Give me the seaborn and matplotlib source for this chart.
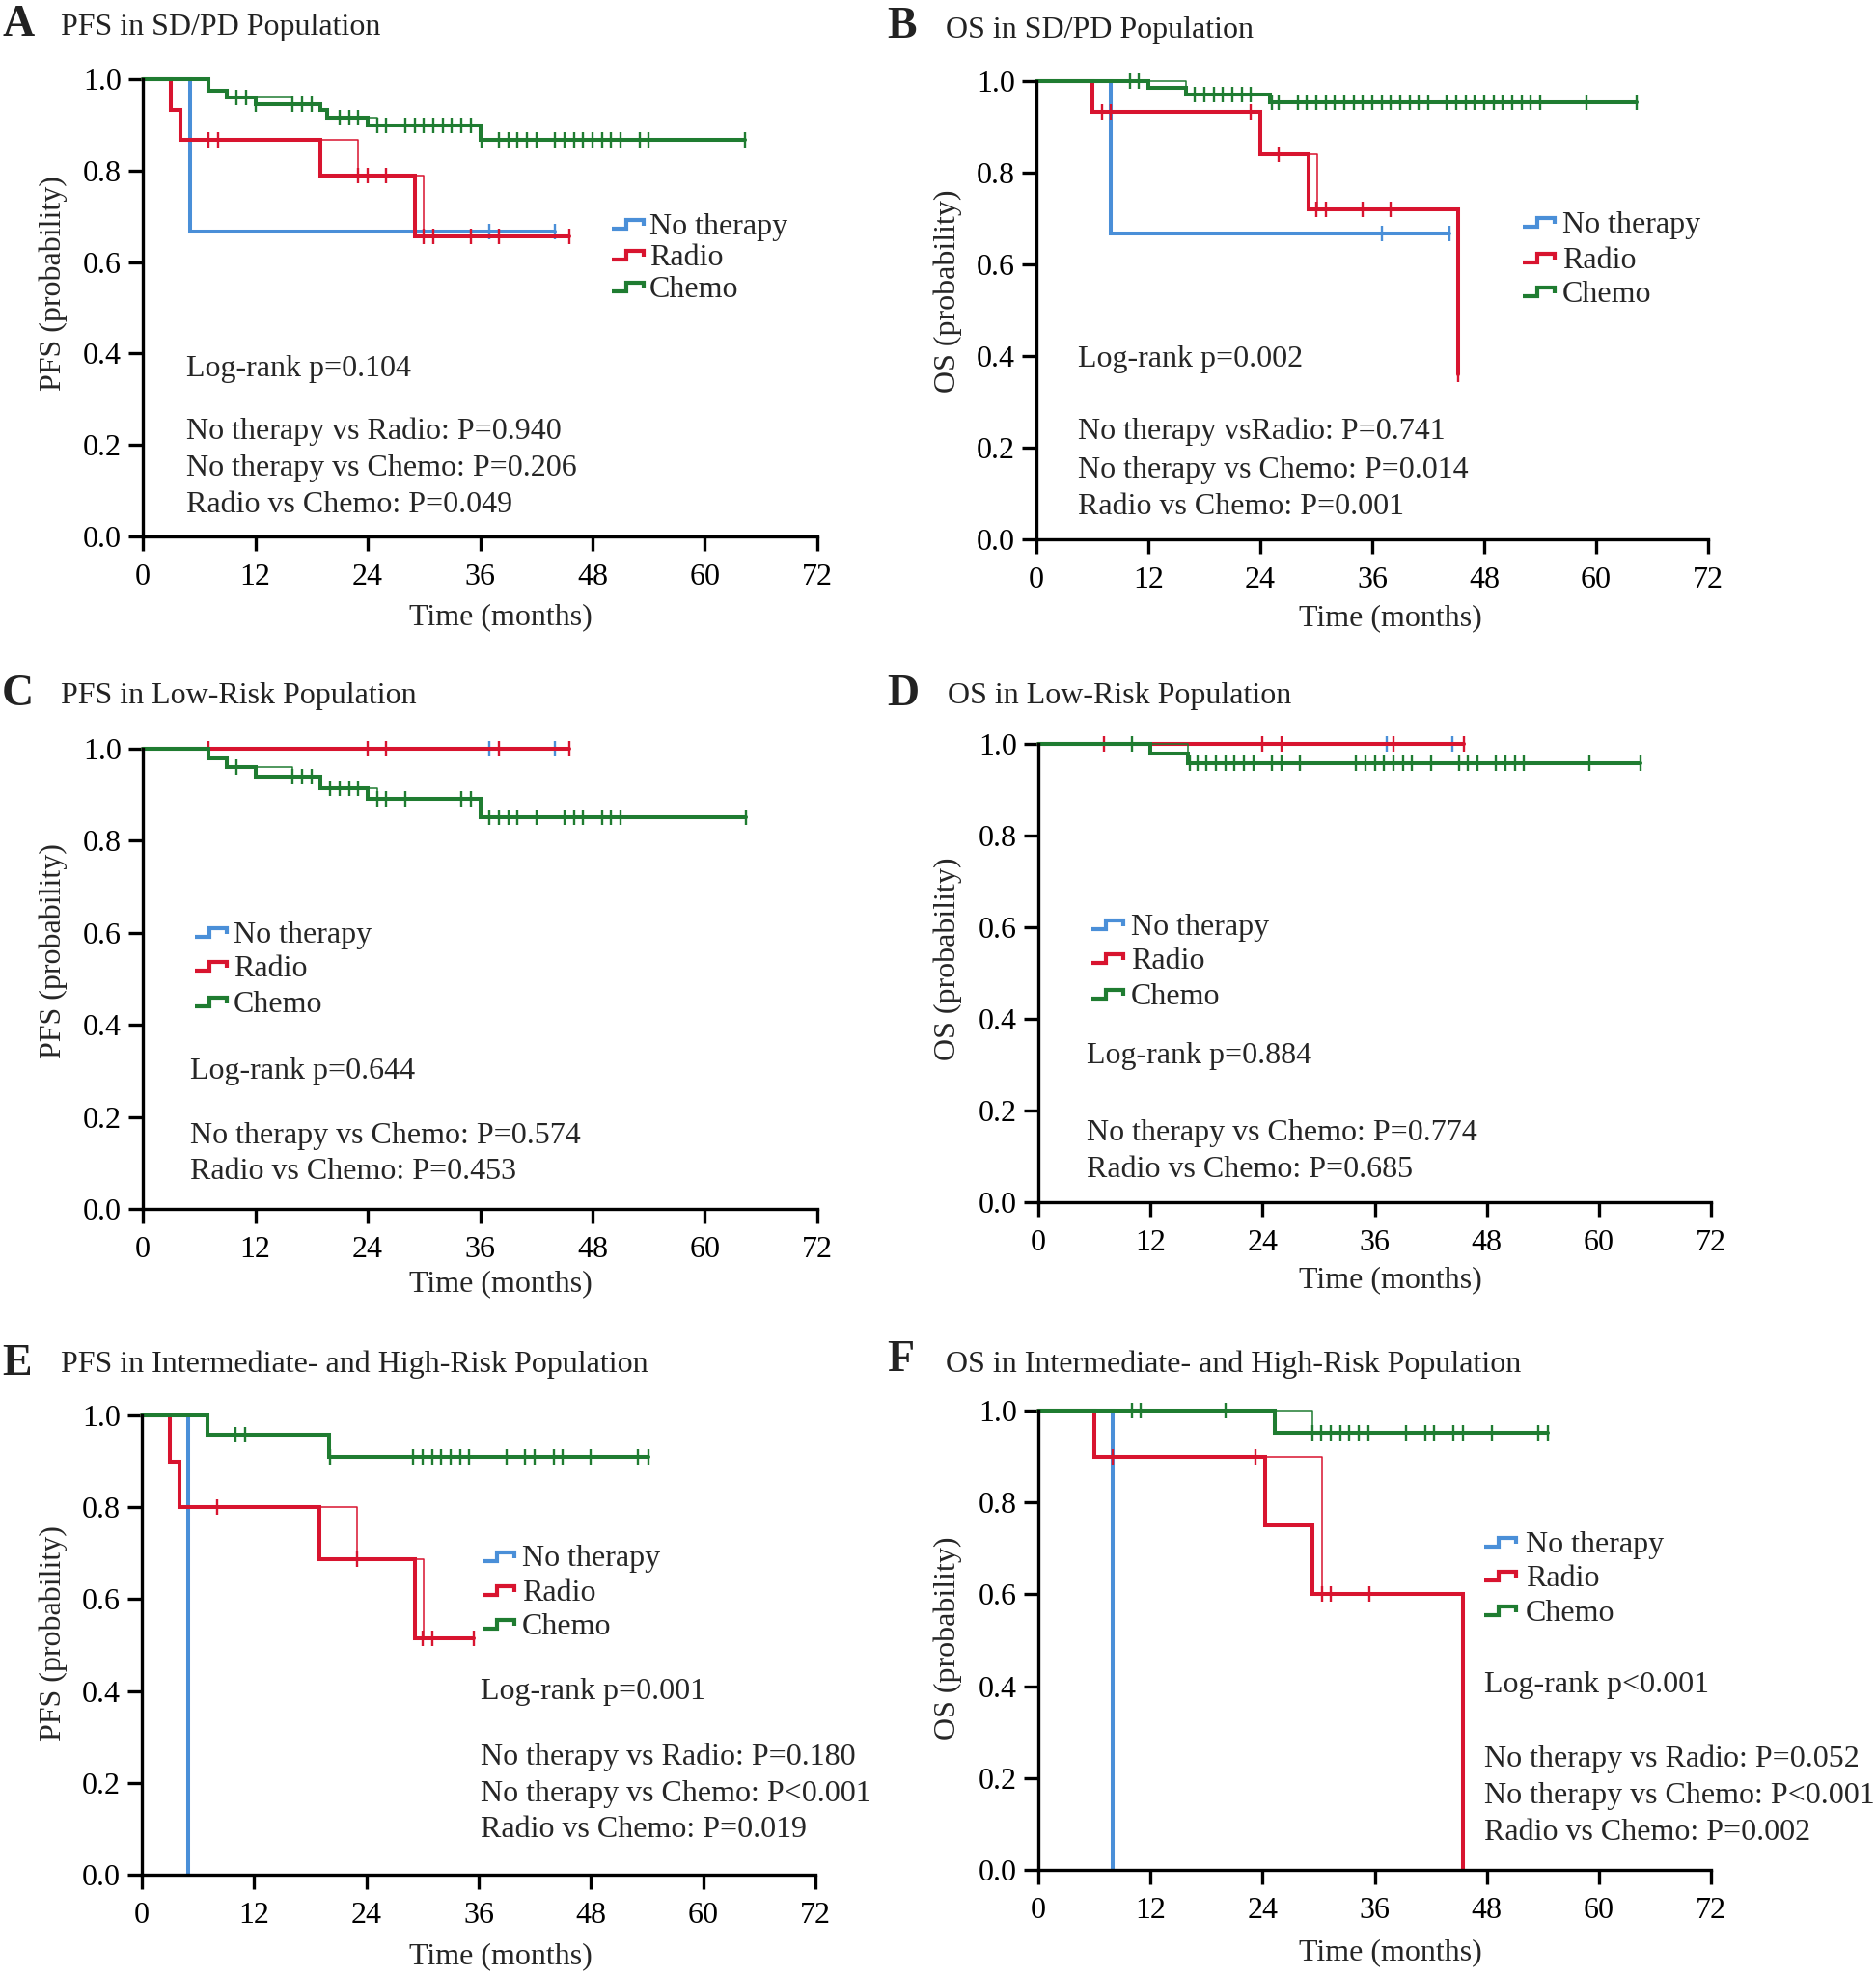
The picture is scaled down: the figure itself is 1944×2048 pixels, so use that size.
import numpy as np
import pandas as pd
import matplotlib
matplotlib.use("Agg")
import matplotlib.pyplot as plt
import seaborn as sns
from matplotlib.lines import Line2D

# ---------------- data ----------------
GROUPS = ["No therapy", "Radio", "Chemo"]
COLORS = {"No therapy": "#4a8fd8", "Radio": "#d8142f", "Chemo": "#1f7c31"}

# A: PFS in SD/PD population
a_events = {"No therapy": [5], "Radio": [3, 4, 19, 29],
            "Chemo": [7, 9, 12, 19, 19.7, 24, 36]}
a_surv = {"No therapy": [0.667], "Radio": [0.933, 0.867, 0.788, 0.657],
          "Chemo": [0.975, 0.959, 0.945, 0.932, 0.916, 0.898, 0.867]}
a_cens = {"No therapy": [37, 44],
          "Radio": [7, 8, 23, 24, 26, 30, 31, 35, 38, 45.5],
          "Chemo": [10, 11, 12, 16, 17, 18, 21, 22, 23, 25, 26, 28, 29, 30, 31, 32, 33, 34,
                    35, 36.2, 38, 39, 40, 41, 42, 44, 45, 46, 47, 48, 49, 50, 51, 53, 54, 64.3]}
a_ghost = {"Radio": [(19, 23), (29, 30)], "Chemo": [(12, 16), (24, 25)]}

# B: OS in SD/PD population
b_events = {"No therapy": [8], "Radio": [6, 24, 29.2, 45.2], "Chemo": [12, 16, 25]}
b_surv = {"No therapy": [0.667], "Radio": [0.933, 0.84, 0.72, 0.36],
          "Chemo": [0.986, 0.970, 0.954]}
b_cens = {"No therapy": [37, 44.3],
          "Radio": [7, 8, 23, 26, 30, 31, 35, 38, 45.2],
          "Chemo": [10, 11, 17, 18, 19, 20, 21, 22, 23, 25.2, 26, 28, 29, 30, 31, 32, 33, 34,
                    35, 36, 37, 38, 39, 40, 41, 42, 44, 45, 46, 47, 48, 49, 50, 51, 52, 53,
                    54, 59, 64.3]}
b_ghost = {"Radio": [(29.2, 30.1)], "Chemo": [(12, 16)]}

# C: PFS in low-risk population
c_events = {"No therapy": [], "Radio": [], "Chemo": [7, 9, 12, 19, 24, 36]}
c_surv = {"No therapy": [], "Radio": [],
          "Chemo": [0.980, 0.961, 0.940, 0.915, 0.891, 0.851]}
c_cens = {"No therapy": [37, 44], "Radio": [7, 24, 26, 38, 45.5],
          "Chemo": [10, 16, 17, 18, 20, 21, 22, 23, 25, 26, 28, 34, 35, 37, 38, 39, 40,
                    42, 45, 46, 47, 49, 50, 51, 64.4]}
c_ghost = {"Chemo": [(12, 16), (24, 25)]}

# D: OS in low-risk population
d_events = {"No therapy": [], "Radio": [], "Chemo": [12, 16]}
d_surv = {"No therapy": [], "Radio": [], "Chemo": [0.979, 0.958]}
d_cens = {"No therapy": [37.3, 44.3], "Radio": [7, 24, 26, 38, 45.6],
          "Chemo": [10, 16.2, 17, 18, 19, 20, 21, 22, 23, 25, 26, 28, 34, 35, 36, 37, 38,
                    39, 40, 42, 45, 46, 47, 49, 50, 51, 52, 59, 64.5]}
d_ghost = {"Chemo": [(12, 16)]}

# E: PFS in intermediate- and high-risk population
e_events = {"No therapy": [5], "Radio": [3, 4, 19, 29.2], "Chemo": [7, 20]}
e_surv = {"No therapy": [0.0], "Radio": [0.9, 0.8, 0.686, 0.514], "Chemo": [0.958, 0.910]}
e_cens = {"No therapy": [], "Radio": [8, 23, 30, 31, 35.5],
          "Chemo": [10, 11, 20.1, 29, 30, 31, 32, 33, 34, 35, 39, 41, 42, 44, 45, 48, 53, 54.2]}
e_ghost = {"Radio": [(19, 23), (29.2, 30.1)]}

# F: OS in intermediate- and high-risk population
f_events = {"No therapy": [8], "Radio": [6, 24.3, 29.3, 45.5], "Chemo": [25.3]}
f_surv = {"No therapy": [0.0], "Radio": [0.9, 0.75, 0.6, 0.0], "Chemo": [0.951]}
f_cens = {"No therapy": [], "Radio": [8, 23.2, 30.4, 31.3, 35.4],
          "Chemo": [10, 11, 20, 29.3, 30.3, 31.3, 32.3, 33.3, 34.3, 35.3, 39.4, 41.4, 42.4,
                    44.4, 45.5, 48.5, 53.5, 54.5]}
f_ghost = {"Radio": [(24.3, 30.4)], "Chemo": [(25.3, 29.3)]}

letters = ["A", "B", "C", "D", "E", "F"]
titles = ["PFS in SD/PD Population", "OS in SD/PD Population",
          "PFS in Low-Risk Population", "OS in Low-Risk Population",
          "PFS in Intermediate- and High-Risk Population",
          "OS in Intermediate- and High-Risk Population"]
ylabels = ["PFS (probability)", "OS (probability)"] * 3
stats_text = [
    ["Log-rank p=0.104", "No therapy vs Radio: P=0.940", "No therapy vs Chemo: P=0.206",
     "Radio vs Chemo: P=0.049"],
    ["Log-rank p=0.002", "No therapy vsRadio: P=0.741", "No therapy vs Chemo: P=0.014",
     "Radio vs Chemo: P=0.001"],
    ["Log-rank p=0.644", "No therapy vs Chemo: P=0.574", "Radio vs Chemo: P=0.453"],
    ["Log-rank p=0.884", "No therapy vs Chemo: P=0.774", "Radio vs Chemo: P=0.685"],
    ["Log-rank p=0.001", "No therapy vs Radio: P=0.180", "No therapy vs Chemo: P<0.001",
     "Radio vs Chemo: P=0.019"],
    ["Log-rank p<0.001", "No therapy vs Radio: P=0.052", "No therapy vs Chemo: P<0.001",
     "Radio vs Chemo: P=0.002"],
]
x_ticks = [0, 12, 24, 36, 48, 60, 72]
y_ticks = [0.0, 0.2, 0.4, 0.6, 0.8, 1.0]

panels_data = [(a_events, a_surv, a_cens, a_ghost), (b_events, b_surv, b_cens, b_ghost),
               (c_events, c_surv, c_cens, c_ghost), (d_events, d_surv, d_cens, d_ghost),
               (e_events, e_surv, e_cens, e_ghost), (f_events, f_surv, f_cens, f_ghost)]

# ---------------- layout (pixels) ----------------
W, H = 1944, 2048
layout = [
    dict(ax=(148, 82, 847, 556), letter=(2, 37), title=(63, 36),
         leg=(634, 673, [233, 265, 298]), ann=(193, [390, 455.5, 493.4, 531]),
         ylab=(55, 294), xlab=(519, 640)),
    dict(ax=(1074, 84, 1770, 559), letter=(919, 39), title=(980, 39),
         leg=(1578, 1619, [231, 268, 303]), ann=(1117, [380, 455.5, 494.7, 532.6]),
         ylab=(982, 302), xlab=(1441, 641)),
    dict(ax=(148, 776, 847, 1253), letter=(2, 731), title=(63, 729),
         leg=(202, 242, [967, 1002, 1039]), ann=(197, [1118, 1184.5, 1222.4]),
         ylab=(55, 986), xlab=(519, 1331)),
    dict(ax=(1076, 771, 1773, 1246), letter=(919, 731), title=(982, 729),
         leg=(1131, 1172, [959, 994, 1031]), ann=(1126, [1102, 1182, 1220]),
         ylab=(982, 994), xlab=(1441, 1327)),
    dict(ax=(147, 1467, 845, 1943), letter=(2, 1425), title=(63, 1422),
         leg=(500, 541, [1613.5, 1649, 1684]), ann=(498, [1761, 1828.6, 1866.5, 1904.4]),
         ylab=(55, 1693), xlab=(519, 2028)),
    dict(ax=(1076, 1462, 1773, 1938), letter=(919, 1421), title=(980, 1422),
         leg=(1538, 1581, [1599, 1634, 1670]), ann=(1538, [1754, 1831, 1869, 1907]),
         ylab=(982, 1698), xlab=(1441, 2024)),
]

sns.set_theme(style="white")
plt.rcParams['font.family'] = ['Liberation Serif', 'DejaVu Serif']
plt.rcParams['mathtext.default'] = 'regular'

FS = 23
LW = 2.4
CLW = 2.9


def fx(x):
    return x / W


def fy(y):
    return 1 - y / H


def surv_at(events, surv, t):
    idx = np.searchsorted(np.asarray(events, float), t, side='right') - 1
    return 1.0 if idx < 0 else surv[idx]


fig = plt.figure(figsize=(W / 100, H / 100), dpi=100)

for i, lay in enumerate(layout):
    events, surv, cens, ghost = panels_data[i]
    L, T, R, B = lay['ax']
    ax = fig.add_axes([fx(L), fy(B), (R - L) / W, (B - T) / H])
    ax.set_xlim(0, 72)
    ax.set_ylim(0, 1.0)
    ax.set_facecolor('none')

    for g in GROUPS:
        c = COLORS[g]
        ev = list(events[g])
        sv = list(surv[g])
        ce = list(cens[g])
        end = max(ev + ce) if (ev + ce) else 0
        xs = [0] + ev + [end]
        ys = [1.0] + sv + [sv[-1] if sv else 1.0]
        df = pd.DataFrame({"time": xs, "surv": ys})
        sns.lineplot(data=df, x="time", y="surv", drawstyle="steps-post", estimator=None,
                     sort=False, color=c, linewidth=CLW, ax=ax, clip_on=False, legend=False,
                     solid_joinstyle='miter')
        if ce:
            cs = [surv_at(ev, sv, t) for t in ce]
            ax.plot(ce, cs, ls='none', marker='|', ms=11, mew=1.7, color=c, clip_on=False)
        for (t0, t1) in ghost.get(g, []):
            hi = surv_at(ev, sv, t0 - 1e-6)
            lo = surv_at(ev, sv, t1)
            ax.plot([t0, t1, t1], [hi, hi, lo], color=c, lw=1.1, clip_on=False)

    ax.set_xticks(x_ticks)
    ax.set_xticklabels([str(t) for t in x_ticks])
    ax.set_yticks(y_ticks)
    ax.set_yticklabels([f"{t:.1f}" for t in y_ticks])
    ax.tick_params(axis='both', direction='out', length=11, width=LW, labelsize=FS,
                   colors='black', left=True, bottom=True)
    ax.tick_params(axis='x', pad=9)
    ax.tick_params(axis='y', pad=5)
    for s in ['top', 'right']:
        ax.spines[s].set_visible(False)
    for s in ['left', 'bottom']:
        ax.spines[s].set_linewidth(LW)
        ax.spines[s].set_color('black')
    ax.set_xlabel("")
    ax.set_ylabel("")
    ax.grid(False)

    # letters & titles
    lx, lb = lay['letter']
    fig.text(fx(lx), fy(lb), letters[i], fontsize=33, fontweight='bold', va='baseline',
             ha='left', color='#222222')
    tx, tb = lay['title']
    fig.text(fx(tx), fy(tb), titles[i], fontsize=FS, va='baseline', ha='left', color='#222222')

    # axis labels
    yx, yc = lay['ylab']
    fig.text(fx(yx), fy(yc), ylabels[i], fontsize=FS, rotation=90, va='center', ha='center')
    xx, xc = lay['xlab']
    fig.text(fx(xx), fy(xc), "Time (months)", fontsize=FS, va='center', ha='center')

    # legend with step icons
    il, tl, centers = lay['leg']
    for g, cy in zip(GROUPS, centers):
        px = [il, il + 15, il + 15, il + 33, il + 33]
        py = [cy + 4, cy + 4, cy - 5, cy - 5, cy + 1]
        fig.add_artist(Line2D([fx(v) for v in px], [fy(v) for v in py],
                              transform=fig.transFigure, color=COLORS[g], lw=3.0,
                              solid_joinstyle='miter', solid_capstyle='butt'))
        fig.text(fx(tl), fy(cy + 10), g, fontsize=FS, va='baseline', ha='left')

    # statistics
    ax_x, bases = lay['ann']
    for line, b in zip(stats_text[i], bases):
        fig.text(fx(ax_x), fy(b), line, fontsize=FS, va='baseline', ha='left')

fig.savefig("out.png", dpi=100, facecolor='white')
